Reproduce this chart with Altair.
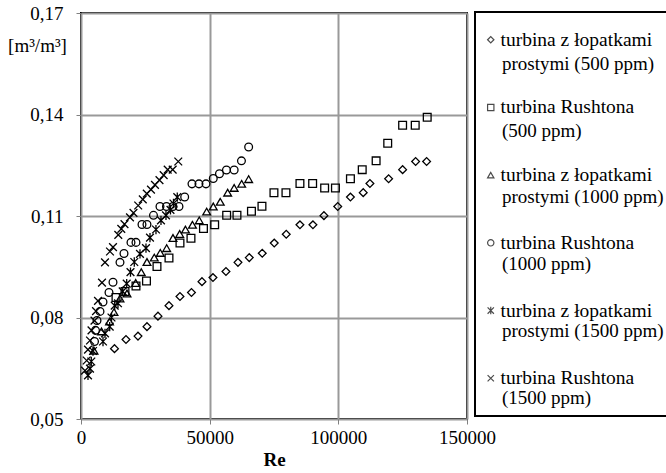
import altair as alt
import pandas as pd

FONT = "Liberation Serif"

series_names = [
    "turbina z łopatkami|prostymi (500 ppm)",
    "turbina Rushtona|(500 ppm)",
    "turbina z łopatkami|prostymi (1000 ppm)",
    "turbina Rushtona|(1000 ppm)",
    "turbina z łopatkami|prostymi (1500 ppm)",
    "turbina Rushtona|(1500 ppm)",
]
second_lines = [n.split("|")[1] for n in series_names]

# turbina z łopatkami prostymi (500 ppm)
re_s500 = [13015, 17483, 22145, 25641, 29915, 34188, 38462, 42929, 47009, 51282,
           56333, 60995, 65385, 70435, 75097, 79759, 85082, 90132, 94406, 99767,
           104701, 109674, 112277, 119541, 124980, 130031, 134304]
v_s500 = [0.0708, 0.0735, 0.0745, 0.0773, 0.0804, 0.0835, 0.0862, 0.0874, 0.0906, 0.0918,
          0.0936, 0.0963, 0.0977, 0.0990, 0.1020, 0.1046, 0.1074, 0.1074, 0.1101, 0.1128,
          0.1156, 0.1169, 0.1196, 0.1210, 0.1237, 0.1261, 0.1261]

# turbina Rushtona (500 ppm)
re_r500 = [13598, 17094, 21368, 25447, 29526, 34188, 38462, 42735, 47591, 51942,
           56604, 60606, 66239, 70319, 74981, 79643, 85082, 90015, 94677, 98873,
           104701, 109285, 114685, 119192, 124980, 129876, 134538]
v_r500 = [0.0859, 0.0877, 0.0893, 0.0908, 0.0951, 0.0976, 0.1020, 0.1034, 0.1063, 0.1074,
          0.1102, 0.1102, 0.1114, 0.1129, 0.1169, 0.1169, 0.1196, 0.1196, 0.1183, 0.1183,
          0.1210, 0.1237, 0.1263, 0.1315, 0.1368, 0.1368, 0.1392]

# turbina z łopatkami prostymi (1000 ppm)
re_s1000 = [5051, 7964, 11072, 12821, 15152, 17871, 21251, 23427, 25641, 28477,
            30808, 33294, 35742, 38345, 40598, 43318, 45960, 48834, 51399, 54118,
            56993, 59518, 62432, 65151]
v_s1000 = [0.0702, 0.0759, 0.0788, 0.0816, 0.0856, 0.0871, 0.0902, 0.0934, 0.0964, 0.0977,
           0.0991, 0.1005, 0.1035, 0.1047, 0.1060, 0.1074, 0.1087, 0.1113, 0.1128, 0.1142,
           0.1169, 0.1183, 0.1195, 0.1209]

# turbina Rushtona (1000 ppm)
re_r1000 = [5245, 5633, 6216, 7382, 8547, 10878, 12432, 15152, 16706, 19425,
            21368, 23699, 25641, 28166, 30692, 33217, 35742, 38073, 40287, 43124,
            45843, 48563, 51399, 53807, 56527, 59518, 62354, 65151]
v_r1000 = [0.0729, 0.0762, 0.0791, 0.0818, 0.0846, 0.0874, 0.0904, 0.0963, 0.0989, 0.1022,
           0.1022, 0.1075, 0.1075, 0.1102, 0.1128, 0.1128, 0.1128, 0.1128, 0.1156, 0.1195,
           0.1195, 0.1195, 0.1211, 0.1225, 0.1236, 0.1236, 0.1263, 0.1304]

# turbina z łopatkami prostymi (1500 ppm)
re_s1500 = [2720, 3497, 4002, 4662, 8547, 9324, 11150, 11849, 13092, 14375,
            16200, 17754, 19231, 20707, 22922, 25253, 26807, 29138, 31080, 33023,
            34771, 35936, 37413]
v_s1500 = [0.0629, 0.0649, 0.0670, 0.0701, 0.0729, 0.0753, 0.0773, 0.0800, 0.0835, 0.0842,
           0.0877, 0.0900, 0.0934, 0.0964, 0.0988, 0.1005, 0.1036, 0.1060, 0.1087, 0.1102,
           0.1118, 0.1137, 0.1156]

# turbina Rushtona (1500 ppm)
re_r1500 = [1554, 2214, 2720, 3497, 4079, 5245, 5828, 6605, 8159, 9324,
            11267, 12432, 14491, 15657, 16900, 19037, 20396, 22222, 24009, 25563,
            27195, 28749, 30497, 32129, 33683, 35626, 37801]
v_r1500 = [0.0643, 0.0673, 0.0705, 0.0732, 0.0762, 0.0791, 0.0819, 0.0849, 0.0903, 0.0963,
           0.0995, 0.1008, 0.1044, 0.1062, 0.1076, 0.1096, 0.1109, 0.1131, 0.1149, 0.1166,
           0.1178, 0.1192, 0.1206, 0.1221, 0.1237, 0.1237, 0.1261]

x_ticks = [0, 50000, 100000, 150000]
y_ticks = [0.05, 0.08, 0.11, 0.14, 0.17]

shapes = [
    "diamond",
    "square",
    "triangle-up",
    "circle",
    "M-1,-1L1,1M-1,1L1,-1M0,-1.2L0,1.2",
    "M-1,-1L1,1M-1,1L1,-1",
]

all_re = [re_s500, re_r500, re_s1000, re_r1000, re_s1500, re_r1500]
all_v = [v_s500, v_r500, v_s1000, v_r1000, v_s1500, v_r1500]

rows = []
for name, line2, xs, ys in zip(series_names, second_lines, all_re, all_v):
    for xv, yv in zip(xs, ys):
        rows.append({"series": name, "line2": line2, "Re": xv, "val": yv})
df = pd.DataFrame(rows)

ROW_PAD = 46.7

common_leg = dict(
    orient="none", labelFont=FONT,
    labelColor="black", labelLimit=400, padding=8, rowPadding=ROW_PAD,
    symbolStrokeWidth=1.2, labelOffset=0,
)

chart = alt.Chart(df).mark_point(
    filled=False, size=60, strokeWidth=1.3, color="black"
).encode(
    x=alt.X("Re:Q",
            scale=alt.Scale(domain=[0, 150000], nice=False, zero=False),
            axis=alt.Axis(values=x_ticks, format="d", title="Re",
                          titleFontWeight="bold", titlePadding=3,
                          labelPadding=4, labelFlush=False, labelOverlap=False)),
    y=alt.Y("val:Q",
            scale=alt.Scale(domain=[0.05, 0.17], nice=False, zero=False),
            axis=alt.Axis(values=y_ticks,
                          labelExpr="replace(format(datum.value, '.2f'), '.', ',')",
                          title="[m³/m³]", titleAngle=0, titleX=-44, titleY=32,
                          titleAlign="center", titleBaseline="middle",
                          titleFontWeight="normal", labelPadding=13)),
    shape=alt.Shape("series:N",
                    scale=alt.Scale(domain=series_names, range=shapes),
                    legend=alt.Legend(title=None, legendX=387, legendY=9,
                                      labelExpr="split(datum.label, '|')[0]",
                                      labelFontSize=19.5,
                                      symbolSize=40, symbolOffset=5,
                                      symbolStrokeColor="black",
                                      symbolFillColor="transparent",
                                      **common_leg)),
    opacity=alt.Opacity("line2:N",
                        scale=alt.Scale(domain=second_lines, range=[1, 1, 1, 1, 1, 1]),
                        legend=alt.Legend(title=" ", titleFontSize=20, titlePadding=14.5,
                                          legendX=394, legendY=-1,
                                          labelFontSize=19,
                                          strokeColor="black",
                                          symbolSize=11, symbolOffset=0,
                                          symbolOpacity=0,
                                          symbolType="M-1,0L-1,0M1,0L1,0",
                                          **common_leg)),
).properties(
    width=386, height=406,
    autosize=alt.AutoSizeParams(type="none"),
    padding={"left": 81, "top": 13, "right": 199, "bottom": 54},
).configure(
    background="white",
).configure_view(
    stroke="black", strokeWidth=2,
).configure_legend(
    strokeWidth=2,
).configure_axis(
    labelFont=FONT, labelFontSize=19, labelColor="black",
    titleFont=FONT, titleFontSize=19, titleColor="black",
    grid=True, gridColor="#999999", gridWidth=2,
    domain=False, tickColor="#808080", tickSize=5, tickWidth=1,
)

chart.save("out.html", embed_options={"renderer": "svg", "actions": False})
